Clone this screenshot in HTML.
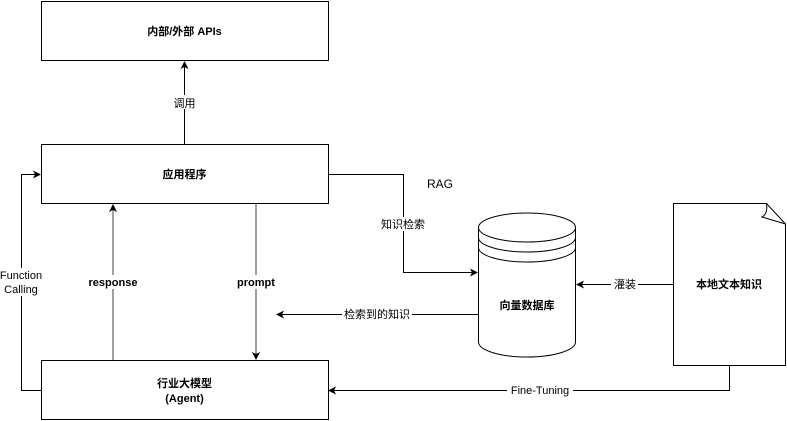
<!DOCTYPE html>
<html><head><meta charset="utf-8"><style>
html,body{margin:0;padding:0;background:#fff;}
svg{display:block;}
text{font-family:"Liberation Sans","Noto Sans CJK SC",sans-serif;font-size:11px;fill:#000;}
.b{font-weight:bold;}
</style></head><body>
<svg width="787" height="421" viewBox="0 0 787 421">
<defs>
<marker id="a" markerWidth="8" markerHeight="8" refX="7" refY="4" orient="auto" markerUnits="userSpaceOnUse"><path d="M0,0 L8,4 L0,8 L2,4 Z" fill="#000"/></marker>
<marker id="g" markerWidth="8" markerHeight="8" refX="7" refY="4" orient="auto" markerUnits="userSpaceOnUse"><path d="M0,0 L8,4 L0,8 L2,4 Z" fill="#000"/></marker>
</defs>
<g fill="#fff" stroke="#000" stroke-width="1">
<rect x="41.5" y="1.5" width="287" height="59"/>
<rect x="41.5" y="144.5" width="287" height="59"/>
<rect x="41.5" y="360.5" width="287" height="59"/>
</g>
<g fill="none" stroke="#000" stroke-width="1">
<line x1="184.5" y1="144" x2="184.5" y2="62" marker-end="url(#a)"/>
<polyline points="41,390.5 21.5,390.5 21.5,174.5 40,174.5" marker-end="url(#a)"/>
<polyline points="328,174.5 403.5,174.5 403.5,272.5 477,272.5" marker-end="url(#a)"/>
<line x1="478" y1="314.5" x2="277" y2="314.5" marker-end="url(#a)"/>
<line x1="673" y1="284.5" x2="577" y2="284.5" marker-end="url(#a)"/>
<polyline points="729.5,365 729.5,390.5 329,390.5" marker-end="url(#a)"/>
</g>
<g fill="none" stroke="#808080" stroke-width="1.5">
<line x1="113" y1="360" x2="113" y2="205" marker-end="url(#g)"/>
<line x1="256" y1="204" x2="256" y2="359" marker-end="url(#g)"/>
</g>
<!-- cylinder -->
<g stroke="#000" stroke-width="1" fill="#fff">
<path d="M478.5,227.5 L478.5,342 A48.5,15 0 0 0 575.5,342 L575.5,227.5"/>
<ellipse cx="527" cy="227.5" rx="48.5" ry="14.5"/>
<path d="M478.5,237.5 A48.5,14.5 0 0 0 575.5,237.5" fill="none"/>
<path d="M478.5,247.5 A48.5,14.5 0 0 0 575.5,247.5" fill="none"/>
</g>
<!-- document -->
<path d="M673.5,203.5 L766.5,203.5 L785.5,224 L785.5,365.5 L673.5,365.5 Z" fill="#fff" stroke="#000"/>
<path d="M766.5,203.5 Q768,214 762,217 L785.5,224" fill="none" stroke="#000"/>
<!-- label backgrounds -->
<g fill="#fff">
<rect x="171" y="95" width="27" height="14"/>
<rect x="0" y="268" width="43" height="28"/>
<rect x="88" y="275" width="52" height="14"/>
<rect x="236" y="275" width="42" height="14"/>
<rect x="380" y="217" width="48" height="14"/>
<rect x="342" y="307" width="70" height="14"/>
<rect x="611" y="277" width="27" height="14"/>
<rect x="507" y="383" width="66" height="14"/>
</g>
<g text-anchor="middle">
<text x="184.5" y="35" class="b">内部/外部 APIs</text>
<text x="184.5" y="107">调用</text>
<text x="184.5" y="178" class="b">应用程序</text>
<text x="184.5" y="387" class="b">行业大模型</text>
<text x="184.5" y="402" class="b">(Agent)</text>
<text x="21" y="279">Function</text>
<text x="21" y="293">Calling</text>
<text x="113" y="286" class="b">response</text>
<text x="256" y="286" class="b">prompt</text>
<text x="440" y="188" style="font-size:12px">RAG</text>
<text x="403" y="228">知识检索</text>
<text x="377" y="318">检索到的知识</text>
<text x="625" y="288">灌装</text>
<text x="527" y="309" class="b">向量数据库</text>
<text x="729" y="288" class="b">本地文本知识</text>
<text x="540" y="394">Fine-Tuning</text>
</g>
</svg>
</body></html>
